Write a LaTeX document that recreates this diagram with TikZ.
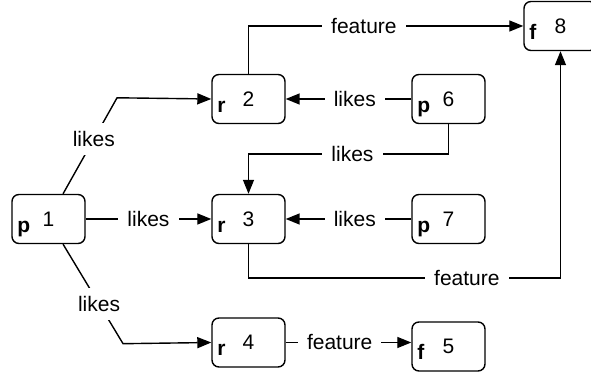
\documentclass[tikz,border=0pt]{standalone}
\usepackage{fontspec}
\setmainfont{Liberation Sans}
\usepackage{tikz}
\usetikzlibrary{positioning}
\usetikzlibrary{shapes.geometric, arrows.meta}
\tikzstyle{entity} = [rectangle, rounded corners=3.5pt, minimum width=36.5pt, minimum height=24.5pt, inner sep=0pt, draw=black, line width=0.7pt]
\tikzstyle{kind} = [anchor=base west, inner sep=0pt, font=\fontsize{10.5}{12}\selectfont\bfseries, xshift=2.8pt, yshift=6pt]
\tikzstyle{rel} = [fill=white, inner xsep=4.5pt, inner ysep=4pt]
\tikzstyle{arrow} = [line width=0.7pt, -{Triangle[length=7pt, width=5.5pt]}]

\begin{document}
\begin{tikzpicture}[node distance=60pt, font=\fontsize{10.5}{12}\selectfont]

	\useasboundingbox (-24.25pt,-77.5pt) rectangle (271.25pt,109.5pt);

	\node (p1) [entity, label={[kind]south west:p}] {1};

	\node (r3) [entity, right of=p1, xshift=40pt, label={[kind]south west:r}] {3};

	\node (r2) [entity, above of=r3, label={[kind]south west:r}] {2};

	\node (r4) [entity, below of=r3, yshift=-1.75pt, label={[kind]south west:r}] {4};

	\node (p7) [entity, right of=r3, xshift=40pt, label={[kind]south west:p}] {7};

	\node (p6) [entity, above of=p7, label={[kind]south west:p}] {6};

	\node (f5) [entity, below of=p7, yshift=-3.75pt, label={[kind]south west:f}] {5};

	\node (f8) [entity, above of=p6, xshift=56pt, yshift=-23.5pt, label={[kind]south west:f}] {8};



	\draw [arrow] (p1.60) -- node[rel, pos=0.57] {likes} ++(27pt,48pt) -- (r2.west);
	\draw [arrow] (p1) -- node[rel] {likes} (r3);
	\draw [arrow] (p1.300) -- node[rel, pos=0.6] {likes} ++(30pt,-49.75pt) -- (r4.west);

	\draw [arrow] (p6) -- node[rel, pos=0.45] {likes} (r2);
	\draw [arrow] (p6.south) -- ++(0,-15pt) -| node[rel, pos=0.24] {likes} (r3.north);
	\draw [arrow] (p7) -- node[rel, pos=0.45] {likes} (r3);

	\draw [arrow] (r2.north) |- node[rel, pos=0.71] {feature} (f8.west);
	\draw [arrow] (r3.south) -- ++(0,-17pt) -| node[rel, pos=0.35] {feature} (f8.south);
	\draw [arrow] (r4.east) -- node[rel, pos=0.43] {feature} (r4.east -| f5.west);

	\end{tikzpicture}
\end{document}
